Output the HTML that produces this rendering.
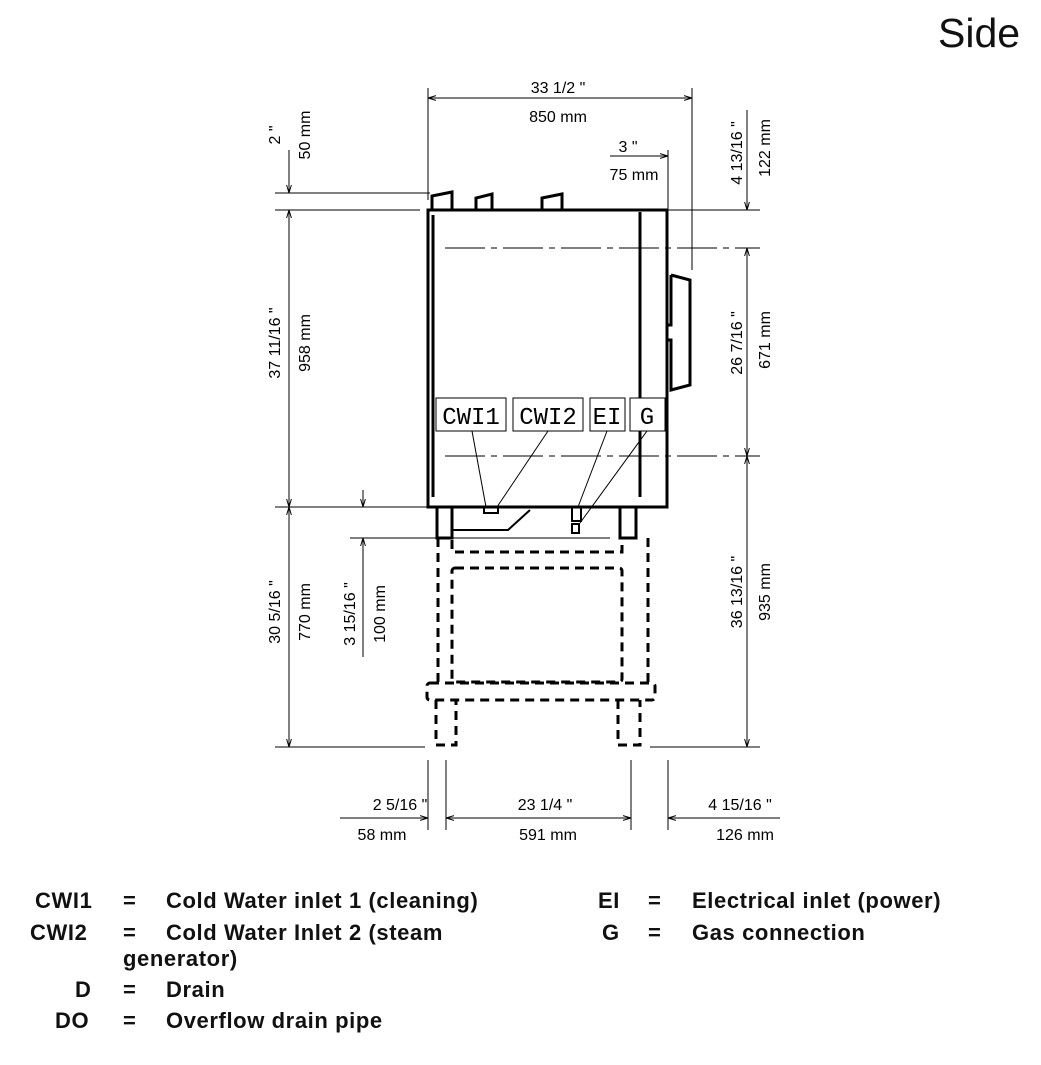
<!DOCTYPE html>
<html><head><style>
body{margin:0;background:#fff;width:1041px;height:1065px;overflow:hidden;position:relative;font-family:"Liberation Sans",sans-serif}
.lg{position:absolute;font-size:22px;color:#111;font-weight:bold;letter-spacing:0.6px}
</style></head><body>
<div class="lg" style="left:938px;top:10px;font-size:41px;font-weight:normal;letter-spacing:0">Side</div>
<svg width="1041" height="880" style="position:absolute;left:0;top:0" font-family="Liberation Sans Narrow, Liberation Sans, sans-serif">
<defs><marker id="a" viewBox="0 0 10 10" refX="10" refY="5" markerWidth="8" markerHeight="8" orient="auto-start-reverse"><path d="M0,2 L10,5 L0,8" fill="none" stroke="#000" stroke-width="1.2"/></marker></defs>
<g stroke="#000" stroke-width="1" fill="none">
<line x1="428" y1="88" x2="428" y2="200"/><line x1="692" y1="88" x2="692" y2="270"/>
<line x1="668" y1="150" x2="668" y2="210"/>
<line x1="275" y1="193" x2="430" y2="193"/><line x1="275" y1="210" x2="420" y2="210"/>
<line x1="275" y1="507" x2="430" y2="507"/><line x1="275" y1="747" x2="425" y2="747"/>
<line x1="350" y1="538" x2="610" y2="538"/>
<line x1="660" y1="210" x2="760" y2="210"/><line x1="445" y1="248" x2="760" y2="248" stroke-dasharray="40,6,6,6"/>
<line x1="445" y1="456" x2="760" y2="456" stroke-dasharray="40,6,6,6"/><line x1="650" y1="747" x2="760" y2="747"/>
<line x1="428" y1="760" x2="428" y2="830"/><line x1="446" y1="760" x2="446" y2="830"/>
<line x1="631" y1="760" x2="631" y2="830"/><line x1="668" y1="760" x2="668" y2="830"/>
<line x1="428" y1="98" x2="692" y2="98" marker-start="url(#a)" marker-end="url(#a)"/>
<line x1="610" y1="156" x2="668" y2="156" marker-end="url(#a)"/>
<line x1="289" y1="150" x2="289" y2="193" marker-end="url(#a)"/>
<line x1="289" y1="210" x2="289" y2="507" marker-start="url(#a)" marker-end="url(#a)"/>
<line x1="289" y1="507" x2="289" y2="747" marker-start="url(#a)" marker-end="url(#a)"/>
<line x1="363" y1="490" x2="363" y2="507" marker-end="url(#a)"/>
<line x1="363" y1="538" x2="363" y2="657" marker-start="url(#a)"/>
<line x1="747" y1="110" x2="747" y2="210" marker-end="url(#a)"/>
<line x1="747" y1="248" x2="747" y2="456" marker-start="url(#a)" marker-end="url(#a)"/>
<line x1="747" y1="456" x2="747" y2="747" marker-start="url(#a)" marker-end="url(#a)"/>
<line x1="340" y1="818" x2="428" y2="818" marker-end="url(#a)"/>
<line x1="446" y1="818" x2="631" y2="818" marker-start="url(#a)" marker-end="url(#a)"/>
<line x1="668" y1="818" x2="780" y2="818" marker-start="url(#a)"/>
</g>
<g stroke="#000" stroke-width="3" fill="none">
<rect x="428" y="210" width="239" height="297"/>
<line x1="433" y1="215" x2="433" y2="497"/><line x1="640" y1="212" x2="640" y2="497"/>
<path d="M432 210 V196 L452 192 V210 M476 210 V198 L492 194 V210 M542 210 V198 L562 194 V210"/>
<path d="M667 255 V405" stroke-width="2"/>
<path d="M671 275 L690 280 V385 L671 390 V340 H667 M671 275 V325 H667"/>
<rect x="437" y="507" width="15" height="31"/><rect x="620" y="507" width="16" height="31"/>
<path d="M452 530 H508 L530 510" stroke-width="2"/>
<rect x="484" y="507" width="14" height="6" stroke-width="2"/>
<rect x="572" y="507" width="9" height="14" stroke-width="2"/><rect x="572" y="524" width="7" height="9" stroke-width="2"/>
</g>
<g stroke="#000" stroke-width="3" fill="none" stroke-dasharray="9,6">
<path d="M438 538 V682 M648 538 V682"/>
<path d="M452 540 V552 H622 V540"/>
<rect x="452" y="568" width="170" height="114" rx="3"/>
<rect x="427" y="683" width="228" height="17" rx="3"/>
<path d="M436 700 V745 H456 V700 M618 700 V745 H640 V700"/>
</g>
<g stroke="#000" stroke-width="1" fill="#fff">
<rect x="436" y="398" width="70" height="33"/><rect x="513" y="398" width="70" height="33"/>
<rect x="590" y="398" width="35" height="33"/><rect x="630" y="398" width="35" height="33"/>
</g>
<g stroke="#000" stroke-width="1">
<line x1="472" y1="431" x2="486" y2="507"/><line x1="548" y1="431" x2="497" y2="507"/>
<line x1="607" y1="431" x2="578" y2="507"/><line x1="647" y1="431" x2="580" y2="523"/>
</g>
<g font-family="Liberation Mono, monospace" font-size="24" text-anchor="middle">
<text x="471" y="424">CWI1</text><text x="548" y="424">CWI2</text><text x="607" y="424">EI</text><text x="647" y="424">G</text>
</g>
<g font-size="16" text-anchor="middle" fill="#000">
<text x="558" y="93">33 1/2 "</text><text x="558" y="122">850 mm</text>
<text x="628" y="152">3 "</text><text x="634" y="180">75 mm</text>
<text x="400" y="810">2 5/16 "</text><text x="382" y="840">58 mm</text>
<text x="545" y="810">23 1/4 "</text><text x="548" y="840">591 mm</text>
<text x="740" y="810">4 15/16 "</text><text x="745" y="840">126 mm</text>
<text transform="translate(280,135) rotate(-90)">2 "</text>
<text transform="translate(310,135) rotate(-90)">50 mm</text>
<text transform="translate(280,343) rotate(-90)">37 11/16 "</text>
<text transform="translate(310,343) rotate(-90)">958 mm</text>
<text transform="translate(280,612) rotate(-90)">30 5/16 "</text>
<text transform="translate(310,612) rotate(-90)">770 mm</text>
<text transform="translate(355,614) rotate(-90)">3 15/16 "</text>
<text transform="translate(385,614) rotate(-90)">100 mm</text>
<text transform="translate(742,153) rotate(-90)">4 13/16 "</text>
<text transform="translate(770,148) rotate(-90)">122 mm</text>
<text transform="translate(742,343) rotate(-90)">26 7/16 "</text>
<text transform="translate(770,340) rotate(-90)">671 mm</text>
<text transform="translate(742,592) rotate(-90)">36 13/16 "</text>
<text transform="translate(770,592) rotate(-90)">935 mm</text>
</g>
</svg>
<div class="lg" style="left:35px;top:888px">CWI1</div><div class="lg" style="left:123px;top:888px">=</div><div class="lg" style="left:166px;top:888px">Cold Water inlet 1 (cleaning)</div>
<div class="lg" style="left:30px;top:920px">CWI2</div><div class="lg" style="left:123px;top:920px">=</div><div class="lg" style="left:166px;top:920px">Cold Water Inlet 2 (steam</div>
<div class="lg" style="left:123px;top:946px">generator)</div>
<div class="lg" style="left:75px;top:977px">D</div><div class="lg" style="left:123px;top:977px">=</div><div class="lg" style="left:166px;top:977px">Drain</div>
<div class="lg" style="left:55px;top:1008px">DO</div><div class="lg" style="left:123px;top:1008px">=</div><div class="lg" style="left:166px;top:1008px">Overflow drain pipe</div>
<div class="lg" style="left:598px;top:888px">EI</div><div class="lg" style="left:648px;top:888px">=</div><div class="lg" style="left:692px;top:888px">Electrical inlet (power)</div>
<div class="lg" style="left:602px;top:920px">G</div><div class="lg" style="left:648px;top:920px">=</div><div class="lg" style="left:692px;top:920px">Gas connection</div>
</body></html>
